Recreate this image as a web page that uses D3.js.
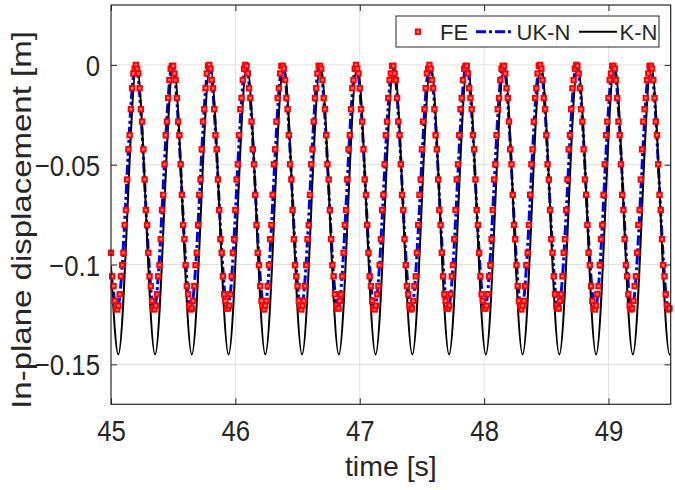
<!DOCTYPE html>
<html>
<head>
<meta charset="utf-8">
<script src="https://cdn.jsdelivr.net/npm/d3@7"></script>
<style>
  body { margin: 0; background: #fff; }
  svg { display: block; }
  text { font-family: Arial, "Liberation Sans", Helvetica, sans-serif; fill: #262626; }
</style>
</head>
<body>
<svg id="chart" width="675" height="490"></svg>
<script>

// axis ranges and ticks
var xDomain = [45, 49.5];
var yDomain = [-0.17, 0.03];
var xTicks = [45, 46, 47, 48, 49];
var xTickLabels = ['45', '46', '47', '48', '49'];
var yTicks = [-0.15, -0.1, -0.05, 0];
var yTickLabels = ['\u22120.15', '\u22120.1', '\u22120.05', '0'];

// K-N : turning points of the curve (start, troughs / peaks, end)
var knTime = [45, 45.0587, 45.2065, 45.3542, 45.5020, 45.6497, 45.7975, 45.9452, 46.0930,
  46.2407, 46.3885, 46.5362, 46.6840, 46.8317, 46.9795, 47.1272, 47.2750, 47.4227, 47.5705,
  47.7182, 47.8660, 48.0137, 48.1615, 48.3092, 48.4570, 48.6047, 48.7525, 48.9002, 49.0480,
  49.1957, 49.3435, 49.4912, 49.5];
var knDisp = [-0.1008, -0.145, 0, -0.145, 0, -0.145, 0, -0.145, 0, -0.145, 0, -0.145, 0,
  -0.145, 0, -0.145, 0, -0.145, 0, -0.145, 0, -0.145, 0, -0.145, 0, -0.145, 0, -0.145, 0,
  -0.145, 0, -0.145, -0.1449];

// UK-N : turning points
var ukTime = [45, 45.0507, 45.1985, 45.3462, 45.4940, 45.6417, 45.7895, 45.9372, 46.0850,
  46.2327, 46.3805, 46.5282, 46.6760, 46.8237, 46.9715, 47.1192, 47.2670, 47.4147, 47.5625,
  47.7102, 47.8580, 48.0057, 48.1535, 48.3012, 48.4490, 48.5967, 48.7445, 48.8922, 49.0400,
  49.1877, 49.3355, 49.4832, 49.5];
var ukDisp = [-0.104, -0.122, 0, -0.122, 0, -0.122, 0, -0.122, 0, -0.122, 0, -0.122, 0,
  -0.122, 0, -0.122, 0, -0.122, 0, -0.122, 0, -0.122, 0, -0.122, 0, -0.122, 0, -0.122, 0,
  -0.122, 0, -0.122, -0.1217];

// FE : samples every 0.01 s from t = 45
var feStart = 45, feStep = 0.01;
var feDisp = [
  -0.0941,-0.1059,-0.1108,-0.1182,-0.1220,-0.1225,-0.1206,-0.1149,-0.1059,-0.1003,
  -0.0941,-0.0802,-0.0727,-0.0574,-0.0423,-0.0352,-0.0222,-0.0117,-0.0043,-0.0019,
  0,-0.0019,-0.0043,-0.0117,-0.0222,-0.0284,-0.0423,-0.0574,-0.0727,-0.0802,
  -0.0941,-0.1059,-0.1108,-0.1182,-0.1220,-0.1225,-0.1206,-0.1149,-0.1059,-0.1003,
  -0.0873,-0.0727,-0.0651,-0.0498,-0.0352,-0.0284,-0.0166,-0.0076,-0.0019,-0.0005,
  -0.0005,-0.0043,-0.0076,-0.0166,-0.0284,-0.0352,-0.0498,-0.0651,-0.0802,-0.0873,
  -0.1003,-0.1108,-0.1149,-0.1206,-0.1225,-0.1220,-0.1182,-0.1108,-0.1003,-0.0941,
  -0.0802,-0.0651,-0.0574,-0.0423,-0.0284,-0.0222,-0.0117,-0.0043,-0.0005,0,
  -0.0019,-0.0076,-0.0117,-0.0222,-0.0352,-0.0423,-0.0574,-0.0727,-0.0873,-0.0941,
  -0.1059,-0.1149,-0.1182,-0.1220,-0.1220,-0.1206,-0.1149,-0.1059,-0.0941,-0.0873,
  -0.0727,-0.0574,-0.0498,-0.0352,-0.0222,-0.0166,-0.0076,-0.0019,0,-0.0005,
  -0.0043,-0.0117,-0.0166,-0.0284,-0.0423,-0.0498,-0.0651,-0.0802,-0.0941,-0.1003,
  -0.1108,-0.1182,-0.1206,-0.1225,-0.1206,-0.1182,-0.1108,-0.1003,-0.0873,-0.0802,
  -0.0651,-0.0498,-0.0423,-0.0284,-0.0166,-0.0117,-0.0043,-0.0005,-0.0005,-0.0019,
  -0.0076,-0.0166,-0.0222,-0.0352,-0.0498,-0.0574,-0.0727,-0.0873,-0.1003,-0.1059,
  -0.1108,-0.1182,-0.1206,-0.1225,-0.1206,-0.1182,-0.1108,-0.1003,-0.0873,-0.0802,
  -0.0651,-0.0498,-0.0423,-0.0284,-0.0166,-0.0117,-0.0043,-0.0005,-0.0005,-0.0019,
  -0.0076,-0.0166,-0.0222,-0.0352,-0.0498,-0.0574,-0.0727,-0.0873,-0.1003,-0.1059,
  -0.1149,-0.1206,-0.1220,-0.1220,-0.1182,-0.1149,-0.1059,-0.0941,-0.0802,-0.0727,
  -0.0574,-0.0423,-0.0352,-0.0222,-0.0117,-0.0076,-0.0019,0,-0.0019,-0.0043,
  -0.0117,-0.0222,-0.0284,-0.0423,-0.0574,-0.0651,-0.0802,-0.0941,-0.1059,-0.1108,
  -0.1182,-0.1220,-0.1225,-0.1206,-0.1149,-0.1108,-0.1003,-0.0873,-0.0727,-0.0651,
  -0.0498,-0.0352,-0.0284,-0.0166,-0.0076,-0.0043,-0.0005,-0.0005,-0.0043,-0.0076,
  -0.0166,-0.0284,-0.0352,-0.0498,-0.0651,-0.0727,-0.0873,-0.1003,-0.1108,-0.1149,
  -0.1206,-0.1225,-0.1220,-0.1182,-0.1108,-0.1059,-0.0941,-0.0802,-0.0651,-0.0574,
  -0.0423,-0.0284,-0.0222,-0.0117,-0.0043,-0.0019,0,-0.0019,-0.0076,-0.0117,
  -0.0222,-0.0352,-0.0423,-0.0574,-0.0727,-0.0802,-0.0941,-0.1059,-0.1149,-0.1182,
  -0.1220,-0.1220,-0.1206,-0.1149,-0.1059,-0.1003,-0.0873,-0.0727,-0.0574,-0.0498,
  -0.0352,-0.0222,-0.0166,-0.0076,-0.0019,-0.0005,-0.0005,-0.0043,-0.0117,-0.0166,
  -0.0222,-0.0352,-0.0423,-0.0574,-0.0727,-0.0802,-0.0941,-0.1059,-0.1149,-0.1182,
  -0.1220,-0.1220,-0.1206,-0.1149,-0.1059,-0.1003,-0.0873,-0.0727,-0.0574,-0.0498,
  -0.0352,-0.0222,-0.0166,-0.0076,-0.0019,-0.0005,-0.0005,-0.0043,-0.0117,-0.0166,
  -0.0284,-0.0423,-0.0498,-0.0651,-0.0802,-0.0873,-0.1003,-0.1108,-0.1182,-0.1206,
  -0.1225,-0.1206,-0.1182,-0.1108,-0.1003,-0.0941,-0.0802,-0.0651,-0.0498,-0.0423,
  -0.0284,-0.0166,-0.0117,-0.0043,-0.0005,0,-0.0019,-0.0076,-0.0166,-0.0222,
  -0.0352,-0.0498,-0.0574,-0.0727,-0.0873,-0.0941,-0.1059,-0.1149,-0.1206,-0.1220,
  -0.1220,-0.1182,-0.1149,-0.1059,-0.0941,-0.0873,-0.0727,-0.0574,-0.0423,-0.0352,
  -0.0222,-0.0117,-0.0076,-0.0019,0,-0.0005,-0.0043,-0.0117,-0.0222,-0.0284,
  -0.0423,-0.0574,-0.0651,-0.0802,-0.0941,-0.1003,-0.1108,-0.1182,-0.1220,-0.1225,
  -0.1206,-0.1149,-0.1108,-0.1003,-0.0873,-0.0802,-0.0651,-0.0498,-0.0352,-0.0284,
  -0.0166,-0.0076,-0.0043,-0.0005,-0.0005,-0.0019,-0.0076,-0.0166,-0.0284,-0.0352,
  -0.0498,-0.0651,-0.0727,-0.0873,-0.1003,-0.1059,-0.1149,-0.1206,-0.1225,-0.1220,
  -0.1182,-0.1108,-0.1059,-0.0941,-0.0802,-0.0727,-0.0574,-0.0423,-0.0284,-0.0222,
  -0.0166,-0.0076,-0.0043,-0.0005,-0.0005,-0.0019,-0.0076,-0.0166,-0.0284,-0.0352,
  -0.0498,-0.0651,-0.0727,-0.0873,-0.1003,-0.1059,-0.1149,-0.1206,-0.1225,-0.1220
];

var svg = d3.select('#chart');

var plot = {left: 111, right: 670.7, top: 5, bottom: 404.3};

var x = d3.scaleLinear().domain(xDomain).range([plot.left, plot.right]);
var y = d3.scaleLinear().domain(yDomain).range([plot.bottom, plot.top]);

svg.append('rect')
    .attr('width', 675).attr('height', 490).attr('fill', '#fff');

svg.append('clipPath').attr('id', 'clip')
  .append('rect')
    .attr('x', plot.left).attr('y', plot.top)
    .attr('width', plot.right - plot.left)
    .attr('height', plot.bottom - plot.top);

// grid
var grid = svg.append('g').attr('class', 'grid')
    .attr('stroke', '#e0e0e0').attr('stroke-width', 1);

grid.selectAll('.gx')
    .data(xTicks.slice(1))
    .enter().append('line')
    .attr('x1', function(d) { return x(d); })
    .attr('x2', function(d) { return x(d); })
    .attr('y1', plot.top).attr('y2', plot.bottom);

grid.selectAll('.gy')
    .data(yTicks)
    .enter().append('line')
    .attr('x1', plot.left).attr('x2', plot.right)
    .attr('y1', function(d) { return y(d); })
    .attr('y2', function(d) { return y(d); });

// series
var lineK = d3.line()
    .x(function(d, i) { return x(knTime[i]); })
    .y(function(d) { return y(d); })
    .curve(d3.curveMonotoneX);

var lineUK = d3.line()
    .x(function(d, i) { return x(ukTime[i]); })
    .y(function(d) { return y(d); })
    .curve(d3.curveMonotoneX);

var series = svg.append('g').attr('clip-path', 'url(#clip)');

series.append('path')
    .attr('d', lineUK(ukDisp))
    .attr('fill', 'none')
    .attr('stroke', '#0000ff')
    .attr('stroke-width', 3)
    .attr('stroke-dasharray', '10,3,3,3');

var markers = svg.append('g');
markers.selectAll('rect')
    .data(feDisp)
    .enter().append('rect')
    .attr('x', function(d, i) { return x(feStart + i * feStep) - 2.2; })
    .attr('y', function(d) { return y(d) - 2.2; })
    .attr('width', 4.4).attr('height', 4.4)
    .attr('fill', '#ff8080')
    .attr('stroke', '#ff0000')
    .attr('stroke-width', 2);

series.append('path')
    .attr('d', lineK(knDisp))
    .attr('fill', 'none')
    .attr('stroke', '#000')
    .attr('stroke-width', 2);

// axes
var tickLen = 6;

var xAxis = svg.append('g')
    .attr('transform', 'translate(0,' + plot.bottom + ')')
    .call(d3.axisBottom(x).tickValues(xTicks)
        .tickFormat(function(d, i) { return xTickLabels[i]; })
        .tickSizeInner(-tickLen).tickSizeOuter(0));

var yAxis = svg.append('g')
    .attr('transform', 'translate(' + plot.left + ',0)')
    .call(d3.axisLeft(y).tickValues(yTicks)
        .tickFormat(function(d, i) { return yTickLabels[i]; })
        .tickSizeInner(-tickLen).tickSizeOuter(0));

svg.append('g')
    .attr('transform', 'translate(0,' + plot.top + ')')
    .call(d3.axisTop(x).tickValues(xTicks).tickFormat('')
        .tickSizeInner(-tickLen).tickSizeOuter(0));

svg.append('g')
    .attr('transform', 'translate(' + plot.right + ',0)')
    .call(d3.axisRight(y).tickValues(yTicks).tickFormat('')
        .tickSizeInner(-tickLen).tickSizeOuter(0));

svg.selectAll('.domain').remove();
svg.selectAll('.tick line').attr('stroke', '#262626').attr('stroke-width', 1);

xAxis.selectAll('text')
    .attr('font-size', 30)
    .attr('font-family', null)
    .attr('fill', '#262626')
    .attr('dy', null)
    .attr('y', 37)
    .attr('transform', 'scale(0.86,1)');

yAxis.selectAll('text')
    .attr('font-size', 30)
    .attr('font-family', null)
    .attr('fill', '#262626')
    .attr('dy', '0.35em')
    .attr('x', -11 / 0.86)
    .attr('transform', 'scale(0.86,1)');

svg.append('rect')
    .attr('x', plot.left).attr('y', plot.top)
    .attr('width', plot.right - plot.left)
    .attr('height', plot.bottom - plot.top)
    .attr('fill', 'none')
    .attr('stroke', '#262626')
    .attr('stroke-width', 1.2);

// labels
svg.append('text')
    .attr('x', (plot.left + plot.right) / 2)
    .attr('y', 476)
    .attr('text-anchor', 'middle')
    .attr('font-size', 28.5)
    .text('time [s]');

svg.append('text')
    .attr('transform', 'translate(31,' + 220 + ') scale(0.85,1) rotate(-90)')
    .attr('text-anchor', 'middle')
    .attr('font-size', 33)
    .text('In-plane displacement [m]');

// legend
var legend = svg.append('g');
legend.append('rect')
    .attr('x', 396).attr('y', 16)
    .attr('width', 263).attr('height', 31)
    .attr('fill', '#fff')
    .attr('stroke', '#262626')
    .attr('stroke-width', 1);

var ly = 31.7;
legend.append('rect')
    .attr('x', 415.8).attr('y', ly - 2.2)
    .attr('width', 4.4).attr('height', 4.4)
    .attr('fill', '#ff8080').attr('stroke', '#ff0000').attr('stroke-width', 2);
legend.append('text').attr('x', 440).attr('y', ly + 7.8)
    .attr('font-size', 22).text('FE');

legend.append('line')
    .attr('x1', 476).attr('x2', 514).attr('y1', ly).attr('y2', ly)
    .attr('stroke', '#0000ff').attr('stroke-width', 3)
    .attr('stroke-dasharray', '10,3,3,3');
legend.append('text').attr('x', 516.5).attr('y', ly + 7.8)
    .attr('font-size', 22).text('UK-N');

legend.append('line')
    .attr('x1', 579).attr('x2', 617).attr('y1', ly).attr('y2', ly)
    .attr('stroke', '#000').attr('stroke-width', 2);
legend.append('text').attr('x', 619.5).attr('y', ly + 7.8)
    .attr('font-size', 22).text('K-N');

</script>
</body>
</html>
